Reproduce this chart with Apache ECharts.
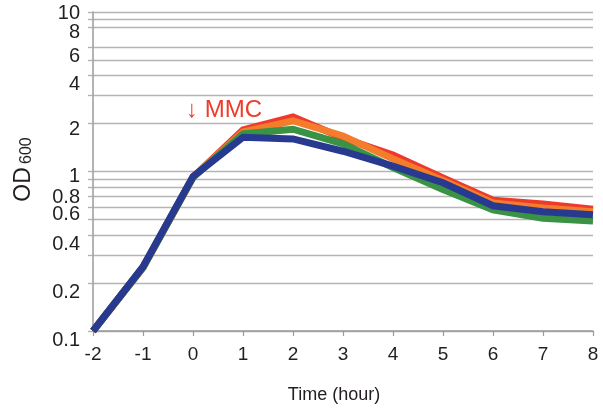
<!DOCTYPE html>
<html>
<head>
<meta charset="utf-8">
<script src="https://cdn.jsdelivr.net/npm/echarts@6/dist/echarts.min.js"></script>
<style>html,body{margin:0;padding:0;background:#fff}#c{width:603px;height:409px}</style>
</head>
<body>
<div id="c"></div>
<script>
// Data
const time = [-2, -1, 0, 1, 2, 3, 4, 5, 6, 7, 8];
const red    = [0.1, 0.25, 0.92, 1.82, 2.2, 1.62, 1.27, 0.91, 0.66, 0.625, 0.58];
const orange = [0.1, 0.25, 0.92, 1.77, 2.08, 1.67, 1.20, 0.88, 0.635, 0.59, 0.56];
const green  = [0.1, 0.25, 0.92, 1.72, 1.84, 1.49, 1.06, 0.77, 0.575, 0.51, 0.49];
const blue   = [0.1, 0.253, 0.93, 1.64, 1.60, 1.34, 1.08, 0.85, 0.61, 0.56, 0.535];
const yGridValues = [0.1, 0.2, 0.3, 0.4, 0.5, 0.6, 0.7, 0.8, 0.9, 1, 2, 3, 4, 5, 6, 8, 9, 10];
// y tick labels, split in three groups so neighbouring labels never collide
const yLabelsA = [0.1, 0.4, 1, 4, 10];
const yLabelsB = [0.2, 0.6, 2, 6];
const yLabelsC = [0.8, 8];
const xTickLabels = ['-2', '-1', '0', '1', '2', '3', '4', '5', '6', '7', '8'];

const FONT = '"Liberation Sans", Arial, Helvetica, sans-serif';
const TXT = '#231f20';

// vertical nudge (px) of each y tick label below its grid line, as in the reference
const nudgeKeys = ['10', '8', '6', '4', '2', '1', '0.8', '0.6', '0.4', '0.2', '0.1'];
const nudgePx   = [1.5, 5, 9, 9, 6, 4.5, 11, 8, 10, 9.5, 9.5];
const richY = {};
nudgeKeys.forEach((k, i) => {
  richY['s' + i] = { fontSize: 20, color: TXT, fontFamily: FONT, padding: [nudgePx[i] * 2, 0, 0, 0] };
});

function pairs(vals) { return time.map((t, i) => [t, vals[i]]); }
function mkSeries(name, vals, color) {
  return {
    name, type: 'line', data: pairs(vals), showSymbol: false, symbol: 'none', yAxisIndex: 0,
    lineStyle: { color, width: 7, join: 'miter' }, itemStyle: { color },
    animation: false
  };
}
function labelCfg(values) {
  return {
    customValues: values, margin: 13, fontSize: 20, color: TXT, fontFamily: FONT,
    showMinLabel: true, showMaxLabel: true, hideOverlap: false,
    formatter: (v) => {
      const r = String(Math.round(v * 10) / 10);
      const idx = nudgeKeys.indexOf(r);
      return '{s' + (idx < 0 ? 0 : idx) + '|' + r + '}';
    },
    rich: richY
  };
}
function extraY(values) {
  return {
    type: 'log', logBase: 10, min: 0.1, max: 10, position: 'left', offset: 0,
    axisLine: { show: false, onZero: false }, axisTick: { show: false },
    splitLine: { show: false }, minorTick: { show: false },
    axisLabel: labelCfg(values)
  };
}

const chart = echarts.init(document.getElementById('c'), null, { renderer: 'canvas' });
chart.setOption({
  animation: false,
  grid: { left: 93, right: 10, top: 12, bottom: 77, containLabel: false },
  xAxis: {
    type: 'value', min: -2, max: 8, interval: 1,
    axisLine: { onZero: false, lineStyle: { color: '#9a9a9a', width: 1.5 } },
    axisTick: { show: true, length: 5, lineStyle: { color: '#9a9a9a', width: 1.2 } },
    splitLine: { show: false },
    axisLabel: {
      margin: 14, fontSize: 19, color: TXT, fontFamily: FONT, showMinLabel: true, showMaxLabel: true,
      formatter: (v) => xTickLabels[time.indexOf(v)] ?? String(v)
    },
    name: 'Time (hour)', nameLocation: 'middle', nameGap: 55,
    nameTextStyle: { fontSize: 18, color: TXT, fontFamily: FONT, padding: [0, 18, 0, 0] }
  },
  yAxis: [{
    type: 'log', logBase: 10, min: 0.1, max: 10, position: 'left', offset: 0,
    axisLine: { show: true, onZero: false, lineStyle: { color: '#9a9a9a', width: 1.5 } },
    axisTick: { show: true, length: 5, customValues: yGridValues, lineStyle: { color: '#b0b0b0', width: 1.3 } },
    minorTick: { show: false },
    splitLine: { show: true, lineStyle: { color: '#b5b5b5', width: 1.3 } },
    axisLabel: labelCfg(yLabelsA),
    name: '{a|OD} {b|600}', nameLocation: 'middle', nameRotate: 90, nameGap: 58,
    nameTextStyle: {
      padding: [0, 0, 0, 4],
      rich: {
        a: { fontSize: 23, color: TXT, fontFamily: FONT },
        b: { fontSize: 16, color: TXT, fontFamily: FONT, padding: [6, 0, 0, 0] }
      }
    }
  }, extraY(yLabelsB), extraY(yLabelsC)],
  graphic: [{
    type: 'text', left: 186, top: 98,
    style: { text: '\u2193 MMC', fontSize: 24, fontFamily: FONT, fill: '#ee3b2b' }
  }],
  series: [
    mkSeries('red', red, '#ee3a2c'),
    mkSeries('orange', orange, '#f47d2c'),
    mkSeries('green', green, '#3a9245'),
    mkSeries('blue', blue, '#283a8f')
  ]
});
</script>
</body>
</html>
